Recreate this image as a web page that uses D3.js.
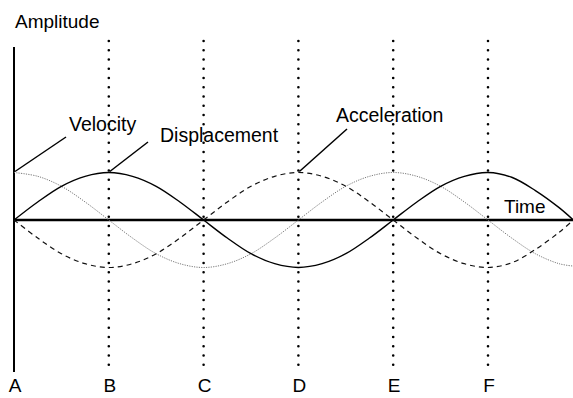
<!DOCTYPE html>
<html>
<head>
<meta charset="utf-8">
<script src="https://cdn.jsdelivr.net/npm/d3@7"></script>
<style>
  html, body { margin: 0; padding: 0; background: #fff; }
  svg { display: block; }
  text { font-family: "Liberation Sans", Arial, sans-serif; fill: #000; }
</style>
</head>
<body>
<svg id="chart" width="573" height="398"></svg>
<script>
// ---- data (time in quarter-periods; letters mark each quarter) ----
const markers = ["A", "B", "C", "D", "E", "F"];
const markerTimes = [0, 1, 2, 3, 4, 5];
const times = [0, 0.25, 0.5, 0.75, 1, 1.25, 1.5, 1.75, 2, 2.25, 2.5, 2.75, 3,
               3.25, 3.5, 3.75, 4, 4.25, 4.5, 4.75, 5, 5.25, 5.5, 5.75, 5.9];
const displacement = [0, 0.38, 0.71, 0.92, 1, 0.92, 0.71, 0.38, 0, -0.38, -0.71, -0.92, -1,
                      -0.92, -0.71, -0.38, 0, 0.38, 0.71, 0.92, 1, 0.9, 0.62, 0.26, 0];
const velocity = [1, 0.92, 0.71, 0.38, 0, -0.38, -0.71, -0.92, -1, -0.92, -0.71, -0.38, 0,
                  0.38, 0.71, 0.92, 1, 0.92, 0.71, 0.38, 0, -0.38, -0.71, -0.92, -0.97];
const acceleration = [0, -0.38, -0.71, -0.92, -1, -0.92, -0.71, -0.38, 0, 0.38, 0.71, 0.92, 1,
                      0.92, 0.71, 0.38, 0, -0.38, -0.71, -0.92, -1, -0.9, -0.62, -0.26, 0];
const seriesNames = ["Velocity", "Displacement", "Acceleration"];
const axisTitle = "Amplitude";
const timeTitle = "Time";

// ---- scales ----
const svg = d3.select("#chart");
const x = d3.scaleLinear().domain([0, 5]).range([14, 488]);
const y = d3.scaleLinear().domain([-1, 1]).range([267.5, 172.5]);

// dotted vertical guides B..F
svg.selectAll("line.guide")
  .data(markerTimes.slice(1))
  .enter().append("line")
  .attr("class", "guide")
  .attr("x1", d => x(d)).attr("x2", d => x(d))
  .attr("y1", 41).attr("y2", 369)
  .attr("stroke", "#000")
  .attr("stroke-width", 2.6)
  .attr("stroke-linecap", "round")
  .attr("stroke-dasharray", "0,9.25");

// axes
svg.append("line")
  .attr("x1", x(0)).attr("x2", x(0))
  .attr("y1", 47).attr("y2", 372)
  .attr("stroke", "#000").attr("stroke-width", 2);
svg.append("line")
  .attr("x1", x(0)).attr("x2", 573)
  .attr("y1", y(0)).attr("y2", y(0))
  .attr("stroke", "#000").attr("stroke-width", 2.4);

// curves
const line = d3.line()
  .x((d, i) => x(times[i]))
  .y(d => y(d))
  .curve(d3.curveCatmullRom.alpha(0.5));

svg.append("path").datum(velocity)
  .attr("d", line).attr("fill", "none")
  .attr("stroke", "#7a7a7a").attr("stroke-width", 1)
  .attr("stroke-dasharray", "1.2,1.2");
svg.append("path").datum(acceleration)
  .attr("d", line).attr("fill", "none")
  .attr("stroke", "#111").attr("stroke-width", 1.2)
  .attr("stroke-dasharray", "5,4");
svg.append("path").datum(displacement)
  .attr("d", line).attr("fill", "none")
  .attr("stroke", "#000").attr("stroke-width", 1.4);

// labels with leader lines (anchored at curve peaks)
const labels = [
  { name: seriesNames[0], t: 0, v: velocity[0],      lx: 66,  ly: 137, tx: 69,  ty: 131 },
  { name: seriesNames[1], t: 1, v: displacement[4],  lx: 148, ly: 142, tx: 160, ty: 142 },
  { name: seriesNames[2], t: 3, v: acceleration[12], lx: 347, ly: 129, tx: 336, ty: 122 }
];
labels.forEach(l => {
  svg.append("line")
    .attr("x1", x(l.t) + 1).attr("y1", y(l.v) - 1)
    .attr("x2", l.lx).attr("y2", l.ly)
    .attr("stroke", "#000").attr("stroke-width", 1.5);
  svg.append("text")
    .attr("x", l.tx).attr("y", l.ty)
    .attr("font-size", 19.5)
    .text(l.name);
});

svg.append("text").attr("x", 15).attr("y", 28).attr("font-size", 19).text(axisTitle);
svg.append("text").attr("x", 504).attr("y", 213).attr("font-size", 19).text(timeTitle);

svg.selectAll("text.marker")
  .data(markers)
  .enter().append("text")
  .attr("class", "marker")
  .attr("x", (d, i) => x(markerTimes[i]) + 1)
  .attr("y", 392)
  .attr("text-anchor", "middle")
  .attr("font-size", 19)
  .text(d => d);
</script>
</body>
</html>
